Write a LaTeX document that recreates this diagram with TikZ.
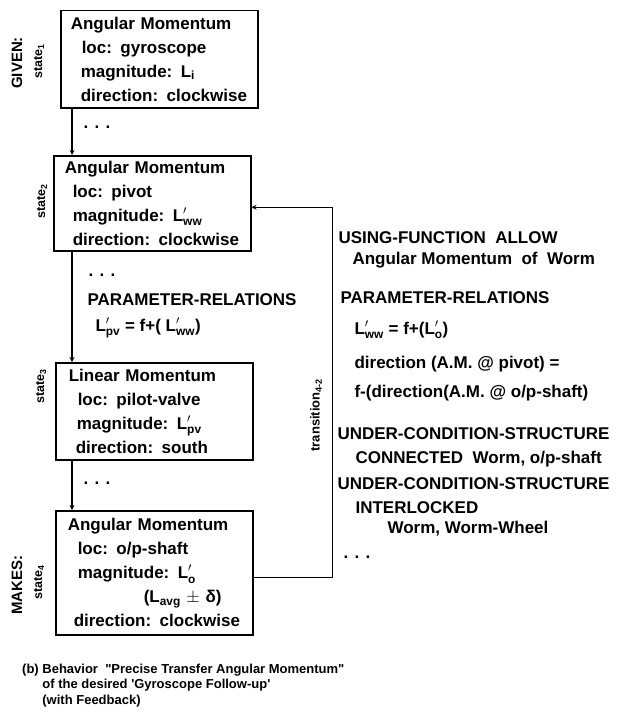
\documentclass[tikz,border=0pt]{standalone}
\usepackage{amsmath}
\usepackage{fontspec}
\setmainfont{Liberation Sans}
\usetikzlibrary{positioning}

\hyphenpenalty=10000
\newcommand{\boxfont}{\fontsize{17}{24}\selectfont\bfseries}
\newcommand{\Lp}[1]{$\text{L}'_{\text{#1}}$}
\newcommand{\Ls}[1]{$\text{L}_{\text{#1}}$}

\begin{document}
\begin{tikzpicture}[x=1pt,y=-1pt,>=stealth]
            \tikzstyle{statebox} = [draw, line width=1.5pt, anchor=north west, align=left, inner xsep=8pt, text width=181pt, font=\boxfont]
            \tikzstyle{rule}     = [anchor=west, font=\boxfont]
            \tikzstyle{dots}     = [anchor=west, font=\boxfont]
            \tikzstyle{side}     = [rotate=90, font=\fontsize{15}{15}\selectfont\bfseries]
            \tikzstyle{state}    = [rotate=90, font=\fontsize{12.5}{12.5}\selectfont\bfseries]
            \tikzstyle{link}     = [draw, line width=1.2pt]

            \useasboundingbox (0,0) rectangle (621,725);

            % States
            \node[statebox, minimum height=97pt] (state1) at (60,10)
                {\hspace*{2pt}Angular Momentum\\ \hspace*{13pt}loc: gyroscope\\ \hspace*{12pt}magnitude: \Ls{i}\\ \hspace*{12pt}direction: clockwise};
            \node[statebox, minimum height=95pt] (state2) at (53,155)
                {\hspace*{3pt}Angular Momentum\\ \hspace*{11pt}loc: pivot\\ \hspace*{11pt}magnitude: \Lp{ww}\\ \hspace*{11pt}direction: clockwise};
            \node[statebox, minimum height=97pt] (state3) at (55,362)
                {\hspace*{5pt}Linear Momentum\\ \hspace*{14pt}loc: pilot-valve\\ \hspace*{13pt}magnitude: \Lp{pv}\\ \hspace*{12pt}direction: south};
            \node[statebox, minimum height=124pt] (state4) at (55,510)
                {\hspace*{4pt}Angular Momentum\\ \hspace*{14pt}loc: o/p-shaft\\ \hspace*{14pt}magnitude: \Lp{o}\\ \hspace*{80pt}(\Ls{avg} $\pm$ δ)\\ \hspace*{10pt}direction: clockwise};

            \node[side] (given) at (17,63) {GIVEN:};
            \node[side] (makes) at (17,585) {MAKES:};
            \node[state] (lab1) at (39,61) {state\textsubscript{1}};
            \node[state] (lab2) at (42,201) {state\textsubscript{2}};
            \node[state] (lab3) at (41,386) {state\textsubscript{3}};
            \node[state] (lab4) at (39,582) {state\textsubscript{4}};

            \draw[link, ->] ([xshift=12pt]state1.south west) -- ([xshift=12pt]state1.south west |- state2.north);
            \draw[link, ->] ([xshift=19pt]state2.south west) -- ([xshift=19pt]state2.south west |- state3.north);
            \draw[link, ->] ([xshift=17pt]state3.south west) -- ([xshift=17pt]state3.south west |- state4.north);

            \node[dots] (dots1) at (80,127) {. . .};
            \node[dots] (dots2) at (85,275) {. . .};
            \node[dots] (dots3) at (80,483) {. . .};

            \node[rule] (prel1) at (84,300) {PARAMETER-RELATIONS};
            \node[rule] (rel1) at (92,328) {\Lp{pv} = f+( \Lp{ww})};

            % Feedback
            \draw[link, ->] ([yshift=-5pt]state4.east) -- ++(79,0) |- ([yshift=-4pt]state2.east);
            \node[state, font=\fontsize{13}{13}\selectfont\bfseries] (trans) at (316,415) {transition\textsubscript{4-2}};

            \node[rule] (using) at (335,238) {USING-FUNCTION\ \ ALLOW};
            \node[rule] (usingarg) at (349,260) {Angular Momentum\ \ of\ \ Worm};
            \node[rule] (prel2) at (337,298) {PARAMETER-RELATIONS};
            \node[rule] (rel2) at (351,330) {\Lp{ww} = f+(\Lp{o})};
            \node[rule] (rel3) at (351,364) {direction (A.M. @ pivot) =};
            \node[rule] (rel4) at (351,393) {f-(direction(A.M. @ o/p-shaft)};
            \node[rule] (cond1) at (334,434) {UNDER-CONDITION-STRUCTURE};
            \node[rule] (cond1arg) at (352,459) {CONNECTED\ \ Worm, o/p-shaft};
            \node[rule] (cond2) at (334,484) {UNDER-CONDITION-STRUCTURE};
            \node[rule] (cond2arg) at (352,508) {INTERLOCKED};
            \node[rule] (cond2obj) at (384,529) {Worm, Worm-Wheel};
            \node[dots] (dots4) at (340,557) {. . .};

            % Caption
            \node[anchor=north west, inner sep=0pt, font=\fontsize{13}{15.5}\selectfont\bfseries] (caption) at (22,662)
                {\begin{tabular}{@{}l@{\ }l@{}}(b) & Behavior\ \ \textquotedbl Precise Transfer Angular Momentum\textquotedbl\\ & of the desired \textquotesingle Gyroscope Follow-up\textquotesingle\\ & (with Feedback)\end{tabular}};
        \end{tikzpicture}
\end{document}
